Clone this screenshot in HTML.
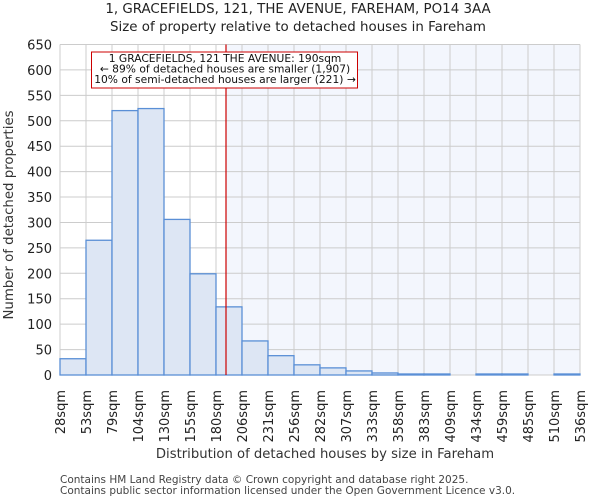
<!DOCTYPE html>
<html><head><meta charset="utf-8"><style>
body{margin:0;background:#fff;font-family:"DejaVu Sans","Liberation Sans",sans-serif;}
</style></head><body>
<svg id="c" width="600" height="500" xmlns="http://www.w3.org/2000/svg" font-family="DejaVu Sans, Liberation Sans, sans-serif">
<text x="298" y="13" text-anchor="middle" font-size="13.4" fill="#222">1, GRACEFIELDS, 121, THE AVENUE, FAREHAM, PO14 3AA</text>
<text x="298" y="31" text-anchor="middle" font-size="13.4" fill="#222">Size of property relative to detached houses in Fareham</text>
<g id="plot"></g>
<text x="325" y="458" text-anchor="middle" font-size="13.2" fill="#333">Distribution of detached houses by size in Fareham</text>
<text transform="translate(13,215) rotate(-90)" text-anchor="middle" font-size="13.3" fill="#333">Number of detached properties</text>
<text x="60" y="483" font-size="10.5" fill="#444">Contains HM Land Registry data © Crown copyright and database right 2025.</text>
<text x="60" y="494" font-size="10.5" fill="#444">Contains public sector information licensed under the Open Government Licence v3.0.</text>
</svg>
<script>
const categories=["28sqm","53sqm","79sqm","104sqm","130sqm","155sqm","180sqm","206sqm","231sqm","256sqm","282sqm","307sqm","333sqm","358sqm","383sqm","409sqm","434sqm","459sqm","485sqm","510sqm","536sqm"];
const binEdges=[28,53,79,104,130,155,180,206,231,256,282,307,333,358,383,409,434,459,485,510,536];
const counts=[32,265,520,524,306,199,134,67,38,20,14,8,4,2,2,0,2,2,0,2];
const yTicks=[0,50,100,150,200,250,300,350,400,450,500,550,600,650];
const propertySize=190;
const NS="http://www.w3.org/2000/svg";
const X0=60,X1=580,Y0=375,Y1=44.5,YMAX=650;
const nb=counts.length,bw=(X1-X0)/nb;
function xIdx(i){return X0+i*bw;}
function xVal(v){let i=0;while(i<binEdges.length-2&&v>binEdges[i+1])i++;return xIdx(i)+bw*(v-binEdges[i])/(binEdges[i+1]-binEdges[i]);}
function y(v){return Y0-(Y0-Y1)*v/YMAX;}
const g=document.getElementById('plot');
function mk(t,a){const e=document.createElementNS(NS,t);for(const k in a)e.setAttribute(k,a[k]);g.appendChild(e);return e;}
const px=xVal(propertySize);
let e=mk('rect',{x:px,y:Y1,width:X1-px,height:Y0-Y1,fill:'#f3f6fd'});


for(let i=0;i<=nb;i++){e=mk('line',{x1:xIdx(i),x2:xIdx(i),y1:Y1,y2:Y0,stroke:'#cccccc','stroke-width':1});

}
yTicks.forEach(t=>{e=mk('line',{x1:X0,x2:X1,y1:y(t),y2:y(t),stroke:'#cccccc','stroke-width':1});


e=mk('text',{x:X0-8,y:y(t)+5,'text-anchor':'end','font-size':13,fill:'#222'});e.textContent=t;

});
counts.forEach((c,i)=>{if(c<=0)return;e=mk('rect',{x:xIdx(i),y:y(c),width:bw,height:Y0-y(c),fill:'#dde6f4',stroke:'#5a8fd6','stroke-width':1.3});

});
categories.forEach((c,i)=>{e=mk('text',{transform:`translate(${xIdx(i)+5},390) rotate(-90)`,'text-anchor':'end','font-size':13,fill:'#222'});e.textContent=c;

});
e=mk('line',{x1:px,x2:px,y1:Y1,y2:Y0,stroke:'#cc0000','stroke-width':1.2});


e=mk('rect',{x:91.5,y:52,width:266,height:36,fill:'#fff',stroke:'#cc0000','stroke-width':1});


["1 GRACEFIELDS, 121 THE AVENUE: 190sqm","← 89% of detached houses are smaller (1,907)","10% of semi-detached houses are larger (221) →"].forEach((s,k)=>{
e=mk('text',{x:225,y:62+k*10.5,'text-anchor':'middle','font-size':10.7,fill:'#111'});e.textContent=s;

});
</script>
</body></html>
